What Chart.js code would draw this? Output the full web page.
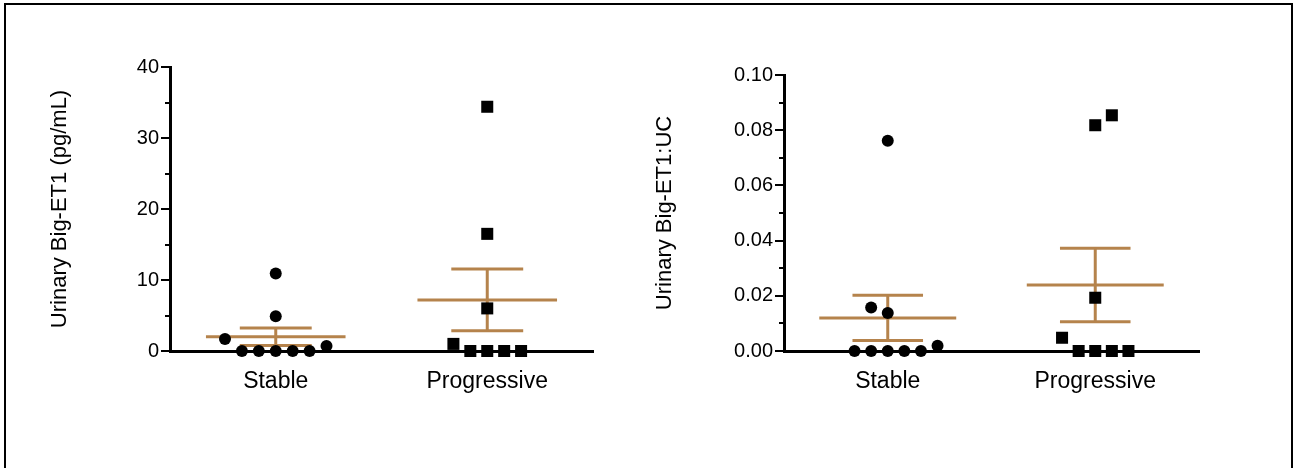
<!DOCTYPE html>
<html>
<head>
<meta charset="utf-8">
<script src="https://cdn.jsdelivr.net/npm/chart.js@4.4.1/dist/chart.umd.min.js"></script>
<style>
  html, body { margin: 0; padding: 0; background: #fff; }
  #wrap { position: relative; width: 1294px; height: 468px; overflow: hidden; }
  #frame { position: absolute; left: 4px; top: 3px; width: 1289px; height: 500px; border: 2px solid #000; box-sizing: border-box; }
  canvas { position: absolute; top: 0; }
  #left { left: 0; }
  #right { left: 647px; }
</style>
</head>
<body>
<div id="wrap">
  <div id="frame"></div>
  <canvas id="left" width="647" height="468"></canvas>
  <canvas id="right" width="647" height="468"></canvas>
</div>
<script>
// Groups on the x axis
const groups = ['Stable', 'Progressive'];

// Urinary Big-ET1 (pg/mL)
const stableET1 = [1.7, 0, 0, 0, 0, 0, 0.7, 10.9, 4.9];
const stableET1Slot = [-3, -2, -1, 0, 1, 2, 3, 0, 0];
const progET1 = [1.0, 0, 0, 0, 0, 34.4, 16.5, 6.0];
const progET1Slot = [-2, -1, 0, 1, 2, 0, 0, 0];
const meanET1 = [2.0, 7.2];
const semET1 = [1.23, 4.35];

// Urinary Big-ET1:UC
const stableUC = [0, 0, 0, 0, 0, 0.0019, 0.0158, 0.0138, 0.0762];
const stableUCSlot = [-2, -1, 0, 1, 2, 3, -1, 0, 0];
const progUC = [0.0048, 0, 0, 0, 0, 0.0193, 0.0818, 0.0854];
const progUCSlot = [-2, -1, 0, 1, 2, 0, 0, 1];
const meanUC = [0.0120, 0.0239];
const semUC = [0.0082, 0.0133];

const brown = '#b5834c';
const jitter = 0.08;   // x spacing of stacked points
const meanHalf = 0.33; // half width of mean line
const capHalf = 0.17;  // half width of SEM caps

Chart.defaults.font.family = "Arial, 'Liberation Sans', sans-serif";
Chart.defaults.color = '#000';

const minorTicks = {
    id: 'minorTicks',
    afterDraw(chart, args, opts) {
        const y = chart.scales.y;
        const ctx = chart.ctx;
        ctx.save();
        ctx.strokeStyle = '#000';
        ctx.lineWidth = 2;
        for (let v = y.min + opts.step; v < y.max; v += 2 * opts.step) {
            const py = Math.round(y.getPixelForValue(v));
            ctx.beginPath();
            ctx.moveTo(y.right - 5, py);
            ctx.lineTo(y.right, py);
            ctx.stroke();
        }
        ctx.restore();
    }
};

function pointsOf(values, slots, center) {
    return values.map((v, i) => ({ x: center + slots[i] * jitter, y: v }));
}

function segment(x0, y0, x1, y1) {
    return {
        data: [{ x: x0, y: y0 }, { x: x1, y: y1 }],
        showLine: true,
        borderColor: brown,
        borderWidth: 3,
        pointRadius: 0,
        clip: false
    };
}

function errorBars(means, sems) {
    const sets = [];
    means.forEach((m, i) => {
        const c = i + 1, s = sems[i];
        sets.push(segment(c - meanHalf, m, c + meanHalf, m));
        sets.push(segment(c - capHalf, m + s, c + capHalf, m + s));
        sets.push(segment(c - capHalf, m - s, c + capHalf, m - s));
        sets.push(segment(c, m - s, c, m + s));
    });
    return sets;
}

function makePanel(id, cfg) {
    return new Chart(document.getElementById(id), {
        type: 'scatter',
        data: {
            datasets: [
                { data: pointsOf(cfg.stable, cfg.stableSlot, 1), pointStyle: 'circle', pointRadius: 6,
                  backgroundColor: '#000', borderWidth: 0, clip: false },
                { data: pointsOf(cfg.prog, cfg.progSlot, 2), pointStyle: 'rect', pointRadius: 8.5,
                  backgroundColor: '#000', borderWidth: 0, clip: false },
                ...errorBars(cfg.means, cfg.sems)
            ]
        },
        options: {
            responsive: false,
            animation: false,
            layout: { padding: { left: cfg.padLeft, top: cfg.padTop, right: cfg.padRight, bottom: 0 } },
            plugins: {
                legend: { display: false },
                tooltip: { enabled: false },
                minorTicks: { step: cfg.step / 2 }
            },
            scales: {
                x: {
                    type: 'linear', min: 0.5, max: 2.5,
                    afterBuildTicks: s => { s.ticks = groups.map((g, i) => ({ value: i + 1 })); },
                    ticks: { callback: v => groups[v - 1], font: { size: 23 }, padding: 12, maxRotation: 0, autoSkip: false },
                    grid: { drawOnChartArea: false, tickLength: 5, color: '#000', lineWidth: 2 },
                    border: { color: '#000', width: 3 },
                    afterFit: s => { s.height = cfg.xHeight; }
                },
                y: {
                    min: 0, max: cfg.max,
                    ticks: { stepSize: cfg.step, font: { size: 20 }, padding: 2, callback: cfg.fmt },
                    grid: { drawOnChartArea: false, tickLength: 9, color: '#000', lineWidth: 2 },
                    border: { color: '#000', width: 3 },
                    title: { display: true, text: cfg.title, font: { size: 22 }, padding: 0 },
                    afterFit: s => { s.width = cfg.yWidth; }
                }
            }
        },
        plugins: [minorTicks]
    });
}

makePanel('left', {
    stable: stableET1, stableSlot: stableET1Slot, prog: progET1, progSlot: progET1Slot,
    means: meanET1, sems: semET1, max: 40, step: 10, fmt: v => String(v),
    title: 'Urinary Big-ET1 (pg/mL)',
    padLeft: 47, padTop: 67, padRight: 54, yWidth: 123, xHeight: 117
});

makePanel('right', {
    stable: stableUC, stableSlot: stableUCSlot, prog: progUC, progSlot: progUCSlot,
    means: meanUC, sems: semUC, max: 0.1, step: 0.02, fmt: v => v.toFixed(2),
    title: 'Urinary Big-ET1:UC',
    padLeft: 5, padTop: 75, padRight: 95, yWidth: 132, xHeight: 117
});
</script>
</body>
</html>
